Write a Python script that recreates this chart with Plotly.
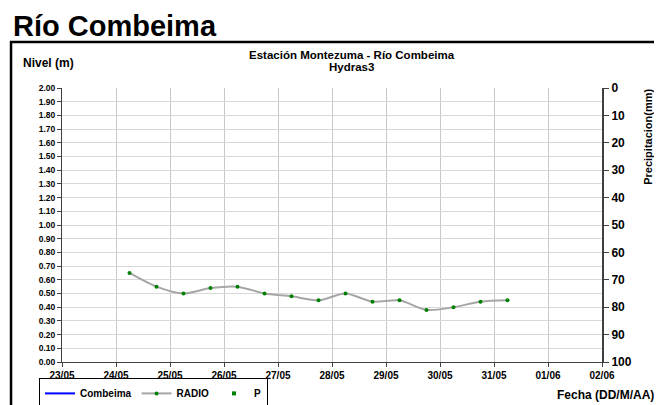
import plotly.graph_objects as go

# Nivel (m) - estación Montezuma, lecturas cada 12 h
fechas = [
    "2024-05-24 06:00", "2024-05-24 18:00", "2024-05-25 06:00", "2024-05-25 18:00",
    "2024-05-26 06:00", "2024-05-26 18:00", "2024-05-27 06:00", "2024-05-27 18:00",
    "2024-05-28 06:00", "2024-05-28 18:00", "2024-05-29 06:00", "2024-05-29 18:00",
    "2024-05-30 06:00", "2024-05-30 18:00", "2024-05-31 06:00",
]
nivel_radio = [0.65, 0.55, 0.50, 0.54, 0.55, 0.50, 0.48, 0.45,
               0.50, 0.44, 0.45, 0.38, 0.40, 0.44, 0.45]

# series sin datos en el periodo (solo aparecen en la leyenda)
fechas_vacias = [None]
nivel_combeima = [None]
precipitacion = [None]

FONT = "Arial, Liberation Sans, sans-serif"
# la pagina se dibuja con 8 px de margen del body: figura algo menor y margenes compensados
W_FIG, H_FIG = 654, 397
M_L, M_T = 54, 80
W_PLOT, H_PLOT = 540, 274

fig = go.Figure()

fig.add_trace(go.Scatter(
    x=fechas_vacias, y=nivel_combeima, name="Combeima", mode="lines",
    line=dict(color="#0000ff", width=2),
))
fig.add_trace(go.Scatter(
    x=fechas, y=nivel_radio, name="RADIO", mode="lines+markers",
    line=dict(color="#a6a6a6", width=2, shape="spline", smoothing=0.8),
    marker=dict(color="#008000", size=4, symbol="circle"),
))
fig.add_trace(go.Scatter(
    x=fechas_vacias, y=precipitacion, name="P", mode="markers", yaxis="y2",
    marker=dict(color="#008000", size=4, symbol="square"),
))

fig.update_layout(
    width=W_FIG, height=H_FIG,
    margin=dict(l=M_L, r=W_FIG - M_L - W_PLOT, t=M_T, b=H_FIG - M_T - H_PLOT, autoexpand=False),
    paper_bgcolor="white", plot_bgcolor="white",
    font=dict(family=FONT, color="black"),
    showlegend=True,
    legend=dict(
        orientation="h", x=-0.0426, y=-0.058, xanchor="left", yanchor="top",
        bordercolor="black", borderwidth=1,
        font=dict(size=10, family=FONT, weight="bold"),
        tracegroupgap=0, itemwidth=30,
    ),
    xaxis=dict(
        type="date", range=["2024-05-23", "2024-06-02"],
        dtick=86400000, tick0="2024-05-23", tickformat="%d/%m",
        showgrid=True, gridcolor="#c8c8c8", gridwidth=1,
        showline=True, linecolor="#404040", linewidth=1,
        ticks="outside", ticklen=4, tickcolor="#404040",
        tickfont=dict(size=10, family=FONT, weight="bold"),
        zeroline=False,
    ),
    yaxis=dict(
        range=[0, 2], dtick=0.1, tickformat=".2f",
        showgrid=True, gridcolor="#d9d9d9", gridwidth=1,
        showline=True, linecolor="#404040", linewidth=1,
        ticks="outside", ticklen=4, tickcolor="#404040",
        tickfont=dict(size=8.5, family=FONT, weight="bold"),
        zeroline=False,
    ),
    yaxis2=dict(
        overlaying="y", side="right", range=[100, 0], dtick=10,
        showgrid=False, zeroline=False,
        showline=True, linecolor="#404040", linewidth=2,
        ticks="outside", ticklen=5, tickcolor="#404040", tickwidth=1,
        tickfont=dict(size=12, family=FONT, weight="bold"),
    ),
    # marcas hacia dentro del eje de precipitacion (cruzan el eje)
    yaxis3=dict(
        overlaying="y", side="right", range=[100, 0], dtick=10,
        showgrid=False, zeroline=False, showticklabels=False,
        showline=False, ticks="inside", ticklen=5, tickcolor="#404040", tickwidth=1,
    ),
)

# marco exterior
fig.add_shape(type="rect", xref="paper", yref="paper",
              x0=-0.0944, x1=1.2, y0=-0.3, y1=1.1679,
              line=dict(color="black", width=2.5), fillcolor="rgba(0,0,0,0)")

ann = [
    dict(text="Río Combeima", x=-0.0944, y=1.16, xanchor="left", yanchor="bottom",
         font=dict(size=29, weight="bold")),
    dict(text="Estación Montezuma - Río Combeima", x=0.537, y=1.1204, xanchor="center",
         yanchor="middle", font=dict(size=11.5, weight="bold")),
    dict(text="Hydras3", x=0.537, y=1.0766, xanchor="center",
         yanchor="middle", font=dict(size=11.5, weight="bold")),
    dict(text="Nivel (m)", x=-0.0759, y=1.0912, xanchor="left", yanchor="middle",
         font=dict(size=12, weight="bold")),
    dict(text="Precipitacion(mm)", x=1.085, y=1.004, xanchor="center", yanchor="top",
         textangle=-90, font=dict(size=11, weight="bold")),
    dict(text="Fecha (DD/M/AA)", x=1.1, y=-0.1204, xanchor="right", yanchor="middle",
         font=dict(size=12, weight="bold")),
]
for a in ann:
    fig.add_annotation(xref="paper", yref="paper", showarrow=False, **a)

fig.write_html("out.html")
